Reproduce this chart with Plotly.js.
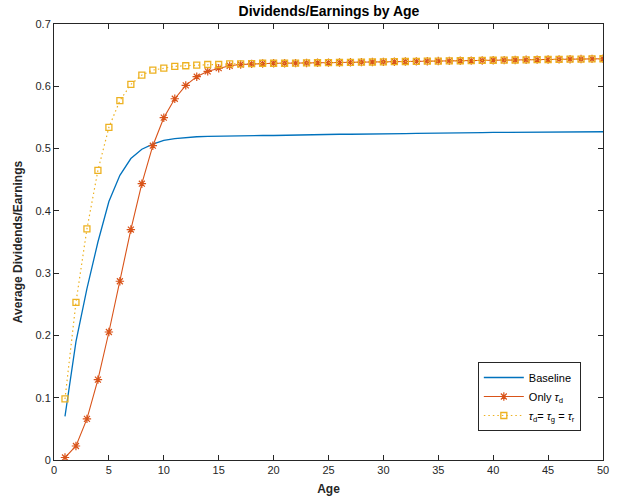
<!DOCTYPE html>
<html>
<head>
<meta charset="utf-8">
<script src="https://cdn.plot.ly/plotly-3.0.1.min.js"></script>
<style>
html,body{margin:0;padding:0;background:#fff;}
#chart{width:619px;height:504px;}
</style>
</head>
<body>
<div id="chart"></div>
<script>
var ages = [1,2,3,4,5,6,7,8,9,10,11,12,13,14,15,16,17,18,19,20,21,22,23,24,25,26,27,28,29,30,31,32,33,34,35,36,37,38,39,40,41,42,43,44,45,46,47,48,49,50];

var baseline = [0.070,0.190,0.275,0.350,0.415,0.457,0.484,0.499,0.507,0.513,
  0.516,0.518,0.519,0.5195,0.520,0.520,0.5205,0.521,0.521,0.521,
  0.5215,0.522,0.522,0.522,0.5225,0.523,0.523,0.523,0.5235,0.524,
  0.524,0.524,0.5245,0.5245,0.525,0.525,0.525,0.5255,0.5255,0.526,
  0.526,0.526,0.5262,0.5265,0.5265,0.5267,0.527,0.527,0.527,0.527];

var onlyTauD = [0.004,0.0225,0.066,0.129,0.2055,0.287,0.370,0.4436,0.5046,0.5496,
  0.580,0.6015,0.6154,0.624,0.629,0.633,0.635,0.636,0.6365,0.637,
  0.637,0.6372,0.6375,0.6378,0.638,0.6382,0.6385,0.6388,0.639,0.6392,
  0.6395,0.6398,0.640,0.6403,0.6405,0.6408,0.641,0.6412,0.6415,0.6418,
  0.642,0.6422,0.6425,0.6428,0.643,0.6432,0.6435,0.6437,0.644,0.6442];

var allEqual = [0.098,0.253,0.371,0.465,0.534,0.577,0.603,0.618,0.626,0.629,
  0.632,0.633,0.634,0.635,0.635,0.636,0.636,0.6365,0.637,0.637,
  0.637,0.6372,0.6375,0.6378,0.638,0.6382,0.6385,0.6388,0.639,0.6392,
  0.6395,0.6398,0.640,0.6403,0.6405,0.6408,0.641,0.6412,0.6415,0.6418,
  0.642,0.6422,0.6425,0.6428,0.643,0.6432,0.6435,0.6437,0.644,0.6442];

var seriesNames = ['Baseline', 'Only <i>τ</i><sub>d</sub>', '<i>τ</i><sub>d</sub>= <i>τ</i><sub>g</sub> = <i>τ</i><sub>r</sub>'];
var xTicks = [0,5,10,15,20,25,30,35,40,45,50];
var yTicks = [0,0.1,0.2,0.3,0.4,0.5,0.6,0.7];
var yTickText = ['0','0.1','0.2','0.3','0.4','0.5','0.6','0.7'];

var FONT = 'Liberation Sans, Arial, Helvetica, sans-serif';
var AX = '#262626';

var traces = [
  {x: ages, y: baseline, name: seriesNames[0], type: 'scatter', mode: 'lines',
   line: {color: '#0072BD', width: 1.3}},
  {x: ages, y: onlyTauD, name: seriesNames[1], type: 'scatter', mode: 'lines+markers',
   line: {color: '#D95319', width: 1.1},
   marker: {symbol: 'asterisk-open', size: 7, color: '#D95319', line: {color: '#D95319', width: 1.2}}},
  {x: ages, y: allEqual, name: seriesNames[2], type: 'scatter', mode: 'lines+markers',
   line: {color: '#EDB120', width: 1.2, dash: '1.5px,3px'},
   marker: {symbol: 'square-open', size: 6, color: '#EDB120', line: {color: '#EDB120', width: 1.3}}}
];

var axisCommon = {
  showgrid: false, zeroline: false, showline: true, linecolor: AX, linewidth: 1,
  mirror: 'allticks', ticks: 'inside', ticklen: 5, tickcolor: AX, tickwidth: 1,
  tickfont: {family: FONT, size: 11, color: AX}
};

var layout = {
  width: 619, height: 504,
  margin: {l: 54, r: 16, t: 24, b: 44},
  paper_bgcolor: '#fff', plot_bgcolor: '#fff',
  title: {text: '<b>Dividends/Earnings by Age</b>', font: {family: FONT, size: 14, color: '#000'},
          x: 0.5315, xanchor: 'center', y: 0.977, yanchor: 'middle'},
  xaxis: Object.assign({}, axisCommon, {
    range: [0, 50], tickvals: xTicks, ticktext: xTicks.map(String),
    title: {text: '<b>Age</b>', font: {family: FONT, size: 12, color: AX}, standoff: 9}
  }),
  yaxis: Object.assign({}, axisCommon, {
    range: [0, 0.7], tickvals: yTicks, ticktext: yTickText,
    title: {text: '<b>Average Dividends/Earnings</b>', font: {family: FONT, size: 12, color: AX}, standoff: 10}
  }),
  showlegend: true,
  legend: {
    x: 0.772, y: 0.2248, xanchor: 'left', yanchor: 'top',
    bgcolor: '#fff', bordercolor: AX, borderwidth: 1,
    font: {family: FONT, size: 11, color: '#000'},
    itemwidth: 40, tracegroupgap: 0
  }
};

Plotly.newPlot('chart', traces, layout, {displayModeBar: false, staticPlot: true});
</script>
</body>
</html>
